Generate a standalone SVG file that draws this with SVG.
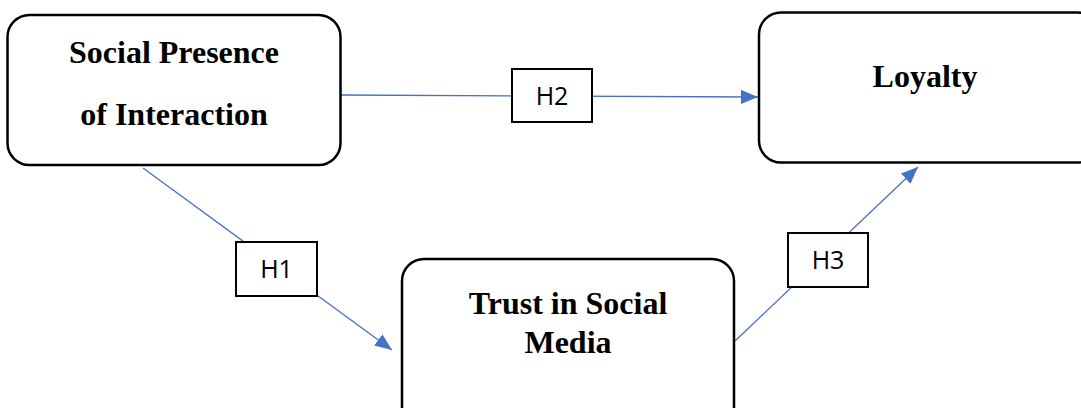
<svg xmlns="http://www.w3.org/2000/svg" width="1081" height="408" viewBox="0 0 1081 408">
<style>
.node{fill:#fff;stroke:#000;stroke-width:2.5}
.lab{fill:#fff;stroke:#000;stroke-width:2}
.t{font-family:"Liberation Serif","Times New Roman",serif;font-weight:bold;font-size:32px;text-anchor:middle;fill:#000}
.h{font-family:"Open Sans","Liberation Sans",sans-serif;font-size:25px;text-anchor:middle;fill:#000}
.c{stroke:#4472C4;stroke-width:1.3;fill:none}
</style>
<defs>
<marker id="arr" markerUnits="userSpaceOnUse" markerWidth="18" markerHeight="14" refX="17" refY="7" orient="auto">
<path d="M0,0 L17,7 L0,14 Z" fill="#4472C4"/>
</marker>
</defs>
<rect width="1081" height="408" fill="#fff"/>
<g id="connectors">
<line class="c" x1="143" y1="168" x2="392" y2="350" marker-end="url(#arr)"/>
<line class="c" x1="341" y1="95" x2="758" y2="97" marker-end="url(#arr)"/>
<line class="c" x1="735" y1="341" x2="918" y2="167" marker-end="url(#arr)"/>
</g>
<g id="social-presence">
<rect class="node" x="7.5" y="15" width="333" height="150" rx="22"/>
<text class="t" x="174" y="63">Social Presence</text>
<text class="t" x="174" y="125">of Interaction</text>
</g>
<g id="loyalty">
<rect class="node" x="759" y="12.5" width="340" height="150" rx="22"/>
<text class="t" x="925" y="87">Loyalty</text>
</g>
<g id="trust">
<rect class="node" x="402" y="259" width="332" height="180" rx="22"/>
<text class="t" x="568" y="314">Trust in Social</text>
<text class="t" x="568" y="353">Media</text>
</g>
<g id="h1">
<rect class="lab" x="236" y="242" width="81" height="54"/>
<text class="h" x="276.5" y="278">H1</text>
</g>
<g id="h2">
<rect class="lab" x="512" y="69" width="80" height="53"/>
<text class="h" x="552" y="104.5">H2</text>
</g>
<g id="h3">
<rect class="lab" x="788" y="233" width="80" height="54"/>
<text class="h" x="828" y="269">H3</text>
</g>
</svg>
